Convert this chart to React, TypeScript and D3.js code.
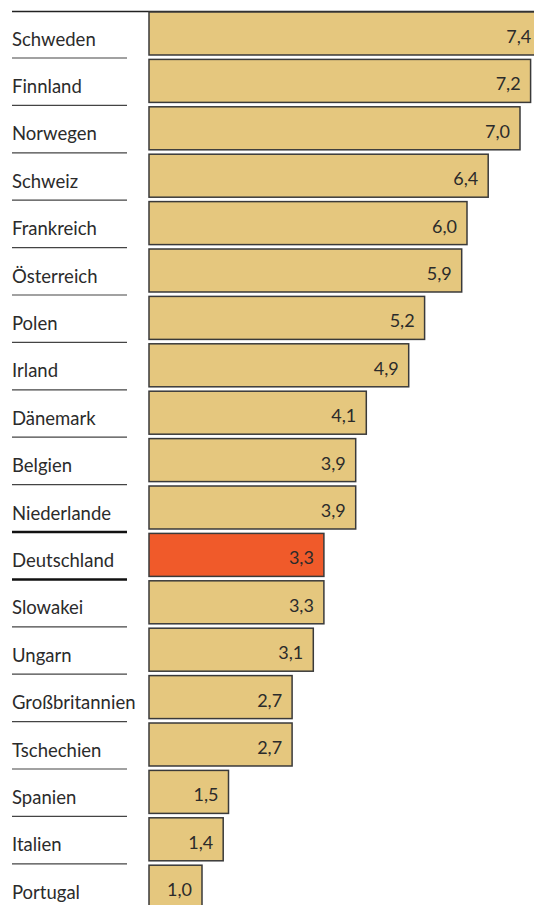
import React, { useEffect, useRef } from "react";
import * as d3 from "d3";

const countries = [
  "Schweden", "Finnland", "Norwegen", "Schweiz", "Frankreich", "Österreich",
  "Polen", "Irland", "Dänemark", "Belgien", "Niederlande", "Deutschland",
  "Slowakei", "Ungarn", "Großbritannien", "Tschechien", "Spanien", "Italien", "Portugal",
];
const values = [7.4, 7.2, 7.0, 6.4, 6.0, 5.9, 5.2, 4.9, 4.1, 3.9, 3.9, 3.3, 3.3, 3.1, 2.7, 2.7, 1.5, 1.4, 1.0];
const highlight = "Deutschland";

const App = () => {
  const svgRef = useRef<SVGSVGElement>(null);

  useEffect(() => {
    const svg = d3.select(svgRef.current);
    svg.selectAll("*").remove();

    const width = 534;
    const height = 905;
    const font = "Lato, 'Noto Sans', sans-serif";
    const data = countries.map((c, i) => ({ country: c, value: values[i] }));

    // Scales
    const x = d3.scaleLinear().domain([0, 1]).range([149, 202]);
    const step = 47.4;
    const y = d3
      .scaleBand<string>()
      .domain(countries)
      .range([9.8, 9.8 + step * countries.length])
      .paddingInner(0.093)
      .paddingOuter(0.0465);

    // top rule
    svg
      .append("line")
      .attr("x1", 12)
      .attr("x2", width)
      .attr("y1", 11.5)
      .attr("y2", 11.5)
      .attr("stroke", "#222")
      .attr("stroke-width", 1.5);

    // separators on the left
    data.slice(0, -1).forEach((d, i) => {
      const next = data[i + 1];
      const yy = y(d.country)! + y.bandwidth() + 3;
      const strong = d.country === highlight || next.country === highlight;
      svg
        .append("line")
        .attr("x1", 12)
        .attr("x2", 127)
        .attr("y1", yy)
        .attr("y2", yy)
        .attr("stroke", strong ? "#111" : "#444")
        .attr("stroke-width", strong ? 2.5 : 1.2);
    });

    const g = svg.append("g").attr("clip-path", "url(#clip)");
    svg
      .append("clipPath")
      .attr("id", "clip")
      .append("rect")
      .attr("width", width)
      .attr("height", height);

    // Bars
    g.selectAll("rect.bar")
      .data(data)
      .join("rect")
      .attr("class", "bar")
      .attr("x", x(0))
      .attr("y", (d) => y(d.country)!)
      .attr("width", (d) => x(d.value) - x(0))
      .attr("height", y.bandwidth())
      .attr("fill", (d) => (d.country === highlight ? "#F05A2A" : "#E5C77E"))
      .attr("stroke", "#3a3a3a")
      .attr("stroke-width", 1.5);

    // Value labels
    g.selectAll("text.val")
      .data(data)
      .join("text")
      .attr("class", "val")
      .attr("x", (d) => x(d.value) - 10)
      .attr("y", (d) => y(d.country)! + y.bandwidth() / 2 + 9.5)
      .attr("text-anchor", "end")
      .attr("font-family", font)
      .attr("font-size", 18)
      .attr("fill", "#2b2b2b")
      .text((d) => d3.format(".1f")(d.value).replace(".", ","));

    // Country labels
    svg
      .selectAll("text.cat")
      .data(data)
      .join("text")
      .attr("class", "cat")
      .attr("x", 12)
      .attr("y", (d) => y(d.country)! + y.bandwidth() / 2 + 12)
      .attr("font-family", font)
      .attr("font-size", 18.5)
      .attr("fill", "#2b2b2b")
      .text((d) => d.country);
  }, []);

  return (
    <svg
      ref={svgRef}
      width="534"
      height="905"
      style={{ position: "absolute", left: 0, top: 0, background: "#fff" }}
    ></svg>
  );
};

export default App;
